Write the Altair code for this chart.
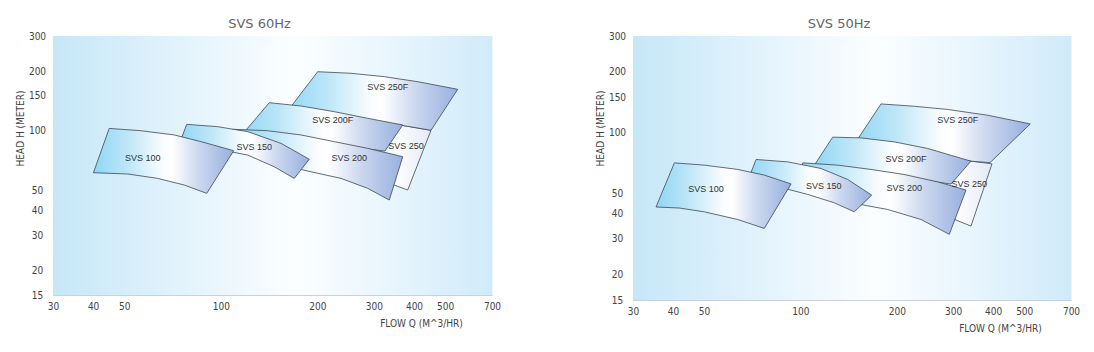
import altair as alt
import pandas as pd

# ---------------- axis ticks ----------------
x_ticks = [30, 40, 50, 100, 200, 300, 400, 500, 700]
y_ticks = [15, 20, 30, 40, 50, 100, 150, 200, 300]

# ---------------- SVS 60Hz : outlines (flow m^3/hr, head m), top edge then bottom edge ----------------
s60_100_q = [44.9, 56.4, 71.6, 86.8, 109.7, 90.4, 77.0, 63.6, 51.3, 40.1]
s60_100_h = [103, 100.3, 95.5, 88.4, 79.6, 48.6, 53.5, 57.8, 60.8, 61.7]

s60_150_q = [78.3, 97.8, 121.3, 154, 188.7, 169.4, 146.8, 121.3, 91.0, 74.2]
s60_150_h = [108, 105.1, 99.2, 86.7, 72.1, 57.8, 66.1, 75.7, 82.8, 85.7]

s60_200_q = [108.9, 140, 177.8, 225.8, 286.9, 368.9, 335, 286.9, 236.9, 191, 154, 115.6]
s60_200_h = [102, 100.3, 95.5, 88.4, 81.8, 74.3, 45, 51.5, 57.8, 62.4, 67.5, 82.1]

s60_200f_q = [141.6, 177.8, 225.8, 286.9, 368.9, 324.8, 236.9, 165.5, 115.6]
s60_200f_h = [138.7, 133.5, 125, 115.8, 107.2, 79.3, 84.1, 92.2, 94.4]

s60_250f_q = [200.4, 254.5, 323.2, 410.7, 547.3, 451.9, 368.9, 293.8, 220.5, 159.7]
s60_250f_h = [198.5, 194.9, 187.4, 176.8, 161.9, 100.8, 106.6, 112.2, 117.5, 123.1]

s60_250_q = [311.2, 368.9, 451.9, 382.3, 327.2, 283.4]
s60_250_h = [110.9, 106.6, 100.8, 50.5, 55.4, 59.4]

lab60_text = ["SVS 100", "SVS 150", "SVS 200", "SVS 200F", "SVS 250F", "SVS 250"]
lab60_q = [57.1, 127.2, 251.4, 223.2, 331.2, 377.7]
lab60_h = [72.9, 82.8, 73.4, 113.6, 166.9, 84.1]

# ---------------- SVS 50Hz ----------------
s50_100_q = [40.4, 50.1, 63.7, 77.1, 93.5, 77.1, 63.7, 50.1, 41.8, 35.4]
s50_100_h = [71.1, 69.3, 66.0, 61.9, 56.0, 33.8, 37.4, 40.8, 42.6, 43.1]

s50_150_q = [72.7, 91.3, 116, 140.5, 167, 147.3, 127.6, 105.4, 83.9, 68.4]
s50_150_h = [73.9, 71.9, 66.7, 58.9, 49.3, 40.8, 45.2, 49.7, 54.6, 57.8]

s50_200_q = [101.7, 130.8, 166.1, 211.1, 268.4, 329, 291.8, 238, 187.3, 158.3, 124.6, 96.9]
s50_200_h = [71.1, 69.3, 66.0, 62.3, 57.3, 52.2, 31.6, 37.4, 41.9, 44.0, 47.7, 52.8]

s50_200f_q = [126.1, 154.6, 196.5, 249.8, 341, 295.4, 206.1, 143.9, 109.5]
s50_200f_h = [95.2, 94.4, 90.2, 83.7, 72.5, 55.9, 60.8, 66.2, 67.7]

s50_250f_q = [178.5, 226.8, 288.4, 384.5, 522.4, 391, 341, 274.9, 206.1, 146]
s50_250f_h = [138.8, 135.2, 130.3, 122.1, 110.6, 71.3, 72.5, 75.9, 81.2, 85.9]

s50_250_q = [255.8, 341, 396.6, 341, 284.9, 246.8]
s50_250_h = [75.9, 72.5, 70.3, 34.7, 38.9, 43.5]

lab50_text = ["SVS 100", "SVS 150", "SVS 200", "SVS 200F", "SVS 250F", "SVS 250"]
lab50_q = [50.7, 118.2, 211.1, 213.7, 309.9, 336.9]
lab50_h = [52.6, 55.0, 53.6, 73.9, 115.0, 55.7]

# ---------------- styling ----------------
AXIS_FONT = "Liberation Sans Narrow, DejaVu Sans Condensed, Liberation Sans, sans-serif"


def lin_grad(stops):
    return {
        "gradient": "linear", "x1": 0, "y1": 0, "x2": 1, "y2": 0,
        "stops": [{"offset": o, "color": c} for o, c in stops],
    }


band_grad = lin_grad([(0, "#8fd6f5"), (0.25, "#bfe7f8"), (0.5, "#fbfdff"),
                      (0.56, "#ffffff"), (0.75, "#ccd8ef"), (1, "#97b0de")])
pale_grad = lin_grad([(0, "#a6def6"), (0.45, "#ffffff"), (1, "#e3e9f6")])
bg_grad = lin_grad([(0, "#c6e7f8"), (0.3, "#e3f3fc"), (0.55, "#fbfeff"),
                    (0.75, "#eaf6fd"), (1, "#d0ebf9")])


def panel(title, shapes, lab_text, lab_q, lab_h, w, h):
    xs = alt.Scale(type="log", domain=[30, 700], nice=False)
    ys = alt.Scale(type="log", domain=[15, 300], nice=False)
    xax = alt.Axis(values=x_ticks, title="FLOW Q (M^3/HR)", ticks=False, tickSize=0,
                   labelPadding=6, labelFlush=False, labelOverlap=False,
                   labelFont=AXIS_FONT, labelFontSize=10, labelColor="#444",
                   titleFont=AXIS_FONT, titleFontSize=10, titleFontWeight="normal",
                   titleColor="#444", titleX=w - 71, titleY=28, titleAlign="center",
                   titleBaseline="middle", grid=True, gridColor="#ffffff",
                   gridOpacity=0.55, domainColor="#c9d2da")
    yax = alt.Axis(values=y_ticks, title="HEAD H (METER)", ticks=False, tickSize=0,
                   labelPadding=16, labelAlign="center", labelFlush=False,
                   labelOverlap=False, labelFont=AXIS_FONT, labelFontSize=10,
                   labelColor="#444", titleFont=AXIS_FONT, titleFontSize=10,
                   titleFontWeight="normal", titleColor="#444", titleX=-33, titleY=92,
                   titleAngle=-90, titleAlign="center", titleBaseline="middle",
                   grid=True, gridColor="#ffffff", gridOpacity=0.55,
                   domainColor="#c9d2da")
    X = alt.X("q:Q", scale=xs, axis=xax)
    Y = alt.Y("h:Q", scale=ys, axis=yax)
    bg = alt.Chart(pd.DataFrame({"k": [0]})).mark_rect(fill=bg_grad).encode(
        x=alt.value(0), x2=alt.value(w), y=alt.value(0), y2=alt.value(h))
    layers = [bg]
    for qs, hs, g in shapes:
        df = pd.DataFrame({"q": qs + qs[:1], "h": hs + hs[:1],
                           "i": list(range(len(qs) + 1))})
        layers.append(
            alt.Chart(df).mark_line(fill=g, stroke="#3e4852", strokeWidth=0.8,
                                    strokeJoin="miter")
            .encode(x=X, y=Y, order="i:Q")
        )
    ldf = pd.DataFrame({"q": lab_q, "h": lab_h, "t": lab_text})
    layers.append(
        alt.Chart(ldf).mark_text(font="Liberation Sans, Arial, sans-serif",
                                 fontSize=9, color="#333")
        .encode(x=X, y=Y, text="t:N")
    )
    return alt.layer(*layers).properties(
        width=w, height=h,
        title=alt.TitleParams(title, font="DejaVu Sans", fontSize=13,
                              fontWeight="normal", color="#666", offset=0,
                              dx=-13, anchor="middle"),
    )


left = panel("SVS  60Hz", [
    (s60_250_q, s60_250_h, pale_grad),
    (s60_250f_q, s60_250f_h, band_grad),
    (s60_200f_q, s60_200f_h, band_grad),
    (s60_200_q, s60_200_h, band_grad),
    (s60_150_q, s60_150_h, band_grad),
    (s60_100_q, s60_100_h, band_grad),
], lab60_text, lab60_q, lab60_h, 439, 259)

right = panel("SVS  50Hz", [
    (s50_250_q, s50_250_h, pale_grad),
    (s50_250f_q, s50_250f_h, band_grad),
    (s50_200f_q, s50_200f_h, band_grad),
    (s50_200_q, s50_200_h, band_grad),
    (s50_150_q, s50_150_h, band_grad),
    (s50_100_q, s50_100_h, band_grad),
], lab50_text, lab50_q, lab50_h, 438, 264)

chart = alt.hconcat(left, right, spacing=92).properties(
    padding={"left": 14, "top": 17, "right": 5, "bottom": 5},
    background="#ffffff",
).configure_view(stroke="#dfe6ec", strokeWidth=1)

chart.save("out.html", embed_options={"renderer": "svg", "actions": False})
